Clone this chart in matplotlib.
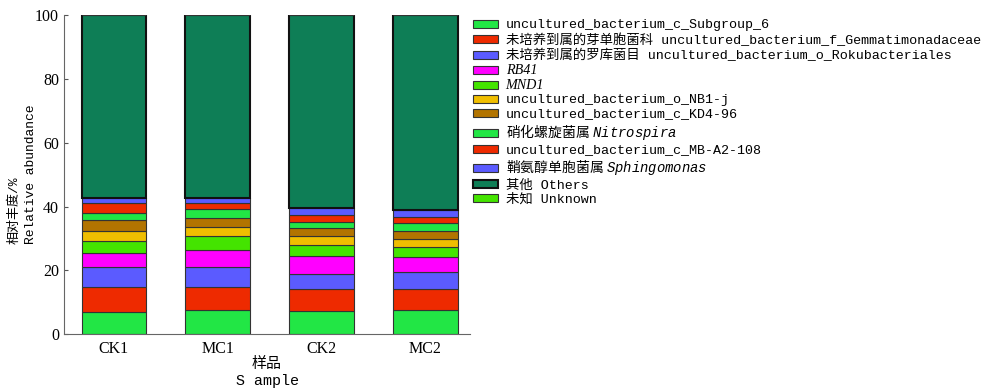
import matplotlib
matplotlib.use("Agg")
import matplotlib.pyplot as plt
import numpy as np

samples = ["CK1", "MC1", "CK2", "MC2"]

taxa = [
    "uncultured_bacterium_c_Subgroup_6",
    "未培养到属的芽单胞菌科 uncultured_bacterium_f_Gemmatimonadaceae",
    "未培养到属的罗库菌目 uncultured_bacterium_o_Rokubacteriales",
    "RB41",
    "MND1",
    "uncultured_bacterium_o_NB1-j",
    "uncultured_bacterium_c_KD4-96",
    "硝化螺旋菌属 $\\mathit{Nitrospira}$",
    "uncultured_bacterium_c_MB-A2-108",
    "鞘氨醇单胞菌属 $\\mathit{Sphingomonas}$",
    "其他 Others",
    "未知 Unknown",
]

subgroup_6 = [7.1, 7.6, 7.3, 7.6]
gemmatimonadaceae = [7.8, 7.3, 6.9, 6.6]
rokubacteriales = [6.1, 6.1, 4.8, 5.2]
rb41 = [4.4, 5.3, 5.5, 4.7]
mnd1 = [3.7, 4.6, 3.5, 3.1]
nb1_j = [3.3, 2.7, 2.9, 2.7]
kd4_96 = [3.3, 2.9, 2.3, 2.5]
nitrospira = [2.2, 2.7, 2.1, 2.4]
mb_a2_108 = [3.1, 2.0, 2.0, 1.9]
sphingomonas = [1.6, 1.6, 2.3, 2.3]
others = [57.4, 57.2, 60.4, 61.0]
unknown = [0.0, 0.0, 0.0, 0.0]

values = [subgroup_6, gemmatimonadaceae, rokubacteriales, rb41, mnd1, nb1_j,
          kd4_96, nitrospira, mb_a2_108, sphingomonas, others, unknown]

colors = ["#22E645", "#EE2A00", "#5B5BFF", "#FF00FF", "#44E400", "#F0BE00",
          "#B27400", "#22E645", "#EE2A00", "#5B5BFF", "#0E7E56", "#44E400"]

mono_cjk = ["Liberation Mono", "Noto Sans CJK SC"]

plt.rcParams["font.family"] = ["Liberation Serif", "Noto Sans CJK SC"]
plt.rcParams["mathtext.fontset"] = "custom"
plt.rcParams["mathtext.it"] = "Liberation Mono:italic"
plt.rcParams["mathtext.rm"] = "Liberation Serif"

fig = plt.figure(figsize=(10, 3.89), dpi=100)
ax = fig.add_axes([0.064, 0.141, 0.406, 0.82])

x = np.arange(len(samples))
bottom = np.zeros(len(samples))
handles = []
for i, (vals, col) in enumerate(zip(values, colors)):
    lw = 1.5 if i == 10 else 0.8
    ec = "#111111" if i == 10 else "#333333"
    b = ax.bar(x, vals, width=0.62, bottom=bottom, color=col,
               edgecolor=ec, linewidth=lw, label=taxa[i])
    handles.append(b)
    bottom += np.array(vals)

ax.set_xlim(-0.48, 3.43)
ax.set_ylim(0, 100)
ax.set_yticks([0, 20, 40, 60, 80, 100])
ax.set_xticks(x)
ax.set_xticklabels(samples, fontsize=11.5)
ax.tick_params(axis="y", direction="in", length=3, labelsize=11.5, color="#555555")
ax.tick_params(axis="x", length=0, labelsize=11.5, pad=5)
for s in ["top", "right"]:
    ax.spines[s].set_visible(False)
for s in ["left", "bottom"]:
    ax.spines[s].set_color("#666666")

ax.set_ylabel("相对丰度/%\nRelative abundance", family=mono_cjk, fontsize=9.4,
              linespacing=1.5, multialignment="left")
ax.yaxis.set_label_coords(-0.066, 0.5)
ax.set_xlabel("样品\nS ample", family=mono_cjk, fontsize=10.8,
              linespacing=1.3, va="top")
ax.xaxis.set_label_coords(0.5, -0.07)

leg = fig.legend(handles, taxa, loc="upper left", bbox_to_anchor=(0.473, 0.95),
                 frameon=False, borderpad=0, borderaxespad=0,
                 handlelength=1.85, handleheight=0.55,
                 labelspacing=0.15, handletextpad=0.6,
                 prop={"family": mono_cjk, "size": 9.6})
texts = leg.get_texts()
for k in (3, 4):
    texts[k].set_fontfamily("Liberation Serif")
    texts[k].set_style("italic")
    texts[k].set_fontsize(10.2)
for k in (7, 9):
    texts[k].set_fontfamily("Noto Sans CJK SC")
    texts[k].set_fontsize(10)

fig.savefig("out.png", dpi=100)
